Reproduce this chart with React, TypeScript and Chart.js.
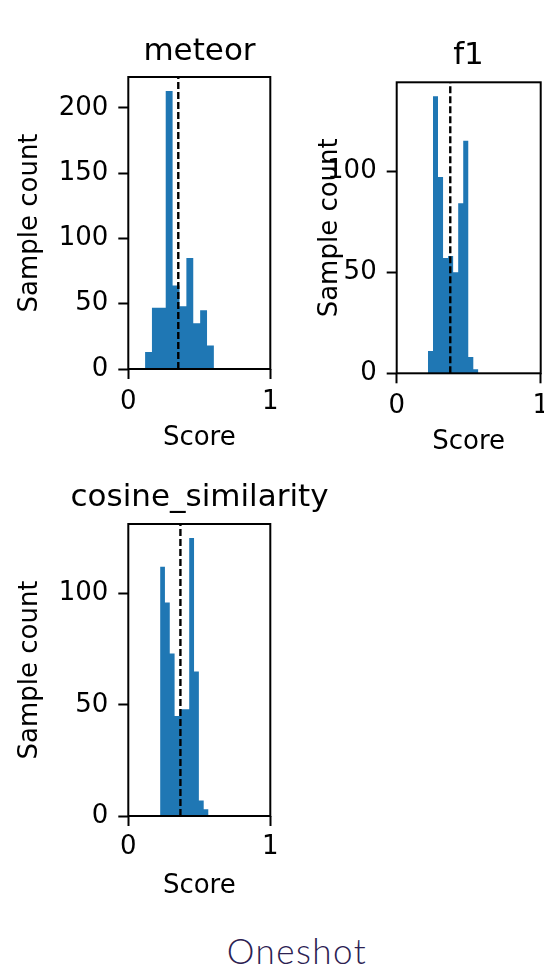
import React, { useEffect, useRef } from "react";
import { Chart, registerables } from "chart.js";

Chart.register(...registerables);

// ---------------- data ----------------
const meteorEdges = [0.118, 0.1665, 0.215, 0.2635, 0.312, 0.3605, 0.409, 0.4575, 0.506, 0.5545, 0.603];
const meteorCounts = [13, 47, 47, 213, 64, 48, 85, 35, 45, 18];
const meteorMean = 0.352;
const meteorYTicks = [0, 50, 100, 150, 200];

const f1Edges = [0.217, 0.252, 0.287, 0.322, 0.357, 0.392, 0.427, 0.462, 0.497, 0.532, 0.567];
const f1Counts = [11, 137, 97, 57, 58, 50, 84, 115, 8, 2];
const f1Mean = 0.372;
const f1YTicks = [0, 50, 100];

const cosineEdges = [0.224, 0.258, 0.292, 0.326, 0.36, 0.395, 0.429, 0.463, 0.497, 0.531, 0.565];
const cosineCounts = [112, 96, 73, 45, 48, 48, 125, 65, 7, 3];
const cosineMean = 0.367;
const cosineYTicks = [0, 50, 100];

const xTickValues = [0, 1];
const xLabel = "Score";
const yLabel = "Sample count";
const footerText = "Oneshot";

// ---------------- style / layout ----------------
const FAMILY = "'DejaVu Sans', sans-serif";
const LABEL_SIZE = 26;
const TITLE_SIZE = 31;
const LABEL_LH = LABEL_SIZE * 1.2;
const TITLE_LH = TITLE_SIZE * 1.2;
const BAR_COLOR = "#1f77b4";

type Spec = {
  title: string;
  edges: number[];
  counts: number[];
  mean: number;
  yTicks: number[];
  box: { cl: number; ct: number; cw: number; ch: number };
  area: { L: number; R: number; T: number; B: number };
  titleMid: number;
  yTitleX: number;
  xTickPad: number;
  xTitleMid: number;
};

const specs: Spec[] = [
  {
    title: "meteor",
    edges: meteorEdges,
    counts: meteorCounts,
    mean: meteorMean,
    yTicks: meteorYTicks,
    box: { cl: 0, ct: 0, cw: 399, ch: 460 },
    area: { L: 128.3, R: 270.3, T: 77, B: 369 },
    titleMid: 52.3,
    yTitleX: 30,
    xTickPad: 7.4,
    xTitleMid: 438,
  },
  {
    title: "f1",
    edges: f1Edges,
    counts: f1Counts,
    mean: f1Mean,
    yTicks: f1YTicks,
    box: { cl: 290, ct: 0, cw: 357, ch: 470 },
    area: { L: 396.7, R: 540.7, T: 82.3, B: 373.3 },
    titleMid: 56,
    yTitleX: 330,
    xTickPad: 7.6,
    xTitleMid: 442.5,
  },
  {
    title: "cosine_similarity",
    edges: cosineEdges,
    counts: cosineCounts,
    mean: cosineMean,
    yTicks: cosineYTicks,
    box: { cl: 0, ct: 460, cw: 399, ch: 460 },
    area: { L: 128.3, R: 270.3, T: 524, B: 816 },
    titleMid: 498.3,
    yTitleX: 30,
    xTickPad: 5.6,
    xTitleMid: 886.5,
  },
];

const framePlugin = {
  id: "frame",
  afterDatasetsDraw(chart: any) {
    const { ctx, chartArea: a } = chart;
    ctx.save();
    ctx.strokeStyle = "#000";
    ctx.lineWidth = 2;
    ctx.strokeRect(a.left, a.top, a.right - a.left, a.bottom - a.top);
    ctx.restore();
  },
};

function HistChart({ spec }: { spec: Spec }) {
  const ref = useRef<HTMLCanvasElement>(null);
  useEffect(() => {
    const { box, area } = spec;
    const yW = area.L - box.cl;
    const rightW = box.cl + box.cw - area.R;
    const titleTopPad = spec.titleMid - box.ct - TITLE_LH / 2;
    const titleBottomPad = area.T - box.ct - titleTopPad - TITLE_LH;
    const xH = spec.xTitleMid + LABEL_LH / 2 - area.B;
    const padBottom = box.ct + box.ch - (area.B + xH);
    const yTitlePad = spec.yTitleX - box.cl - LABEL_LH / 2;

    const histData = spec.counts.map((c, i) => ({ x: spec.edges[i], y: c }));
    histData.push({
      x: spec.edges[spec.edges.length - 1],
      y: spec.counts[spec.counts.length - 1],
    });
    const yMax = Math.max(...spec.counts) * 1.05;

    const tickFont = { family: FAMILY, size: LABEL_SIZE };
    const tickGrid = {
      display: true,
      drawOnChartArea: false,
      drawTicks: true,
      tickLength: 10,
      tickWidth: 2,
      tickColor: "#000",
      color: "#000",
    };
    const chart = new Chart(ref.current as HTMLCanvasElement, {
      type: "line",
      data: {
        datasets: [
          {
            data: [
              { x: spec.mean, y: 0 },
              { x: spec.mean, y: yMax },
            ],
            borderColor: "#000",
            borderWidth: 2.4,
            borderDash: [7, 3],
            pointRadius: 0,
            fill: false,
            order: 0,
          },
          {
            data: histData,
            stepped: "before",
            fill: "origin",
            backgroundColor: BAR_COLOR,
            borderColor: "rgba(0,0,0,0)",
            borderWidth: 0,
            pointRadius: 0,
            order: 1,
          },
        ] as any,
      },
      options: {
        responsive: false,
        animation: false,
        devicePixelRatio: 1,
        layout: { padding: { left: 0, right: 0, top: 0, bottom: padBottom } },
        plugins: {
          legend: { display: false },
          tooltip: { enabled: false },
          title: {
            display: true,
            text: spec.title,
            color: "#000",
            font: { family: FAMILY, size: TITLE_SIZE, weight: "normal" },
            padding: { top: titleTopPad, bottom: titleBottomPad },
          },
        },
        scales: {
          x: {
            type: "linear",
            min: 0,
            max: 1,
            position: "bottom",
            grid: tickGrid,
            border: { display: false },
            ticks: {
              padding: spec.xTickPad,
              color: "#000",
              font: tickFont,
              maxRotation: 0,
              autoSkip: false,
            },
            title: {
              display: true,
              text: xLabel,
              color: "#000",
              font: tickFont,
              padding: { top: 0, bottom: 0 },
            },
            afterBuildTicks: (s: any) => {
              s.ticks = xTickValues.map((v) => ({ value: v }));
            },
            afterFit: (s: any) => {
              s.height = xH;
              s.paddingLeft = 0;
              s.paddingRight = 0;
            },
          },
          y: {
            type: "linear",
            position: "left",
            min: 0,
            max: yMax,
            grid: tickGrid,
            border: { display: false },
            ticks: { padding: 10, color: "#000", font: tickFont, autoSkip: false },
            title: {
              display: true,
              text: yLabel,
              color: "#000",
              font: tickFont,
              padding: { top: yTitlePad, bottom: 0 },
            },
            afterBuildTicks: (s: any) => {
              s.ticks = spec.yTicks.map((v) => ({ value: v }));
            },
            afterFit: (s: any) => {
              s.width = yW;
              s.paddingTop = 0;
              s.paddingBottom = 0;
            },
          },
          yRight: {
            type: "linear",
            position: "right",
            display: true,
            min: 0,
            max: 1,
            grid: { display: false, drawTicks: false },
            border: { display: false },
            ticks: { display: false },
            title: { display: false },
            afterFit: (s: any) => {
              s.width = rightW;
              s.paddingTop = 0;
              s.paddingBottom = 0;
            },
          },
        },
      } as any,
      plugins: [framePlugin],
    });
    return () => chart.destroy();
  }, [spec]);

  const { box } = spec;
  return (
    <canvas
      ref={ref}
      width={box.cw}
      height={box.ch}
      style={{
        position: "absolute",
        left: box.cl,
        top: box.ct,
        width: box.cw,
        height: box.ch,
      }}
    />
  );
}

export default function App() {
  return (
    <div
      style={{
        position: "absolute",
        left: 0,
        top: 0,
        width: 544,
        height: 973,
        overflow: "hidden",
        background: "#fff",
      }}
    >
      {specs.map((s) => (
        <HistChart key={s.title} spec={s} />
      ))}
      <div
        style={{
          position: "absolute",
          left: 147,
          width: 300,
          top: 930,
          textAlign: "center",
          fontFamily: "Lato, sans-serif",
          fontSize: 35,
          fontWeight: 300,
          lineHeight: "40px",
          letterSpacing: 1.5,
          color: "#2c2152",
        }}
      >
        {footerText}
      </div>
    </div>
  );
}
